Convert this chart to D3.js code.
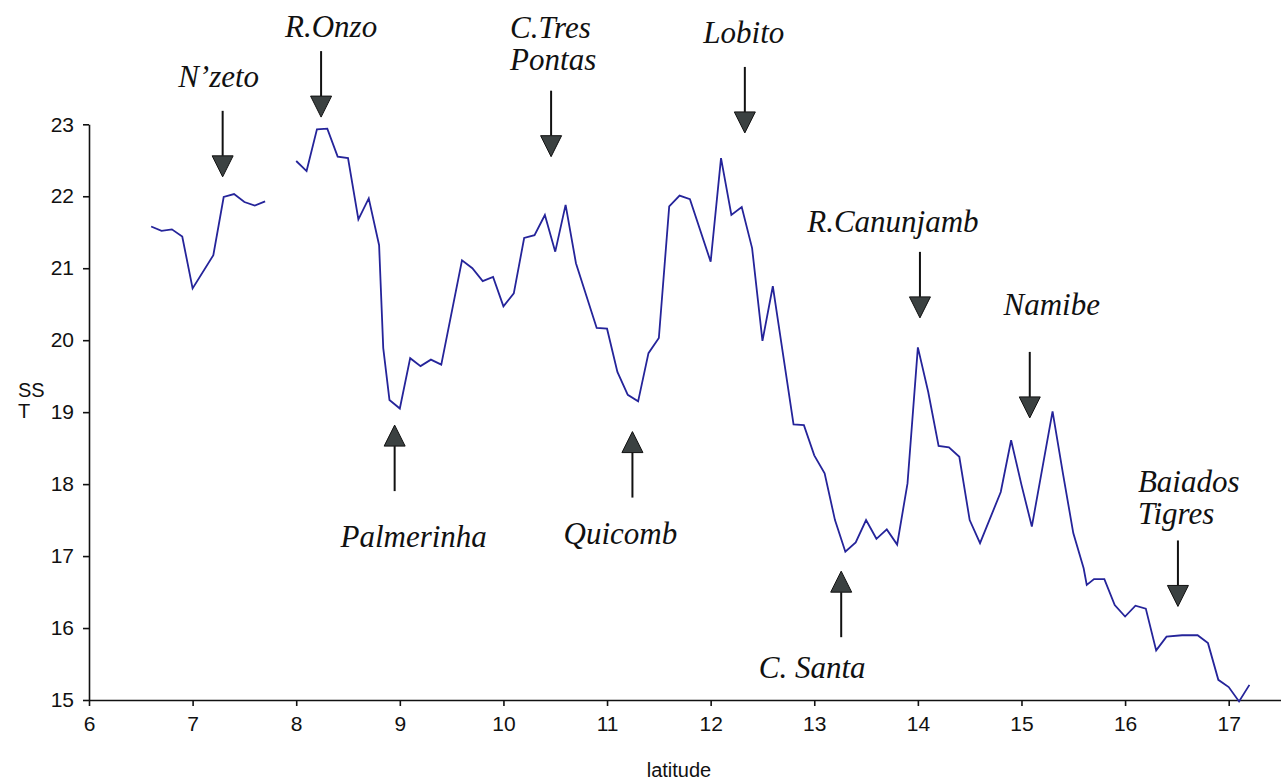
<!DOCTYPE html>
<html>
<head>
<meta charset="utf-8">
<script src="https://cdn.jsdelivr.net/npm/d3@7"></script>
<style>
  html, body { margin: 0; padding: 0; background: #fff; }
  svg { display: block; }
  .tick text { font-family: "Liberation Sans", Arial, sans-serif; font-size: 21px; fill: #111; }
  .axis path, .axis line { stroke: #111; stroke-width: 1.6; }
  .site { font-family: "Liberation Serif", "Times New Roman", serif; font-style: italic; font-size: 31px; fill: #111; }
  .ttl { font-family: "Liberation Sans", Arial, sans-serif; font-size: 20px; fill: #111; }
</style>
</head>
<body>
<svg id="chart" width="1284" height="783"></svg>
<script>
// SST along the coast vs latitude (null = gap in the record)
const latitude = [
  6.6, 6.7, 6.8, 6.9, 7.0, 7.2, 7.3, 7.4, 7.5, 7.6, 7.7, 7.85,
  8.0, 8.1, 8.2, 8.3, 8.4, 8.5, 8.6, 8.7, 8.8, 8.84, 8.9, 9.0,
  9.1, 9.2, 9.3, 9.4, 9.6, 9.7, 9.8, 9.9, 10.0, 10.1, 10.2, 10.3,
  10.4, 10.5, 10.6, 10.7, 10.9, 11.0, 11.1, 11.2, 11.3, 11.4, 11.5, 11.6,
  11.7, 11.8, 12.0, 12.1, 12.2, 12.3, 12.4, 12.5, 12.6, 12.8, 12.9, 13.0,
  13.1, 13.2, 13.3, 13.4, 13.5, 13.6, 13.7, 13.8, 13.9, 14.0, 14.1, 14.2,
  14.3, 14.4, 14.5, 14.6, 14.8, 14.9, 15.0, 15.1, 15.3, 15.4, 15.5, 15.6,
  15.63, 15.7, 15.8, 15.9, 16.0, 16.1, 16.2, 16.3, 16.4, 16.55, 16.7, 16.8,
  16.9, 17.0, 17.1, 17.2
];
const sst = [
  21.58, 21.52, 21.54, 21.44, 20.72, 21.18, 21.99, 22.03, 21.92, 21.87, 21.93, null,
  22.49, 22.35, 22.93, 22.94, 22.55, 22.53, 21.68, 21.97, 21.32, 19.89, 19.17, 19.05,
  19.75, 19.64, 19.73, 19.66, 21.11, 21.00, 20.82, 20.88, 20.47, 20.65, 21.42, 21.46,
  21.74, 21.23, 21.88, 21.07, 20.17, 20.16, 19.56, 19.24, 19.15, 19.82, 20.03, 21.86,
  22.01, 21.96, 21.09, 22.53, 21.74, 21.85, 21.28, 19.99, 20.75, 18.83, 18.82, 18.40,
  18.15, 17.50, 17.06, 17.19, 17.50, 17.24, 17.37, 17.16, 18.01, 19.90, 19.28, 18.53,
  18.51, 18.38, 17.50, 17.18, 17.89, 18.61, 17.99, 17.41, 19.01, 18.15, 17.32, 16.83,
  16.60, 16.68, 16.68, 16.32, 16.16, 16.31, 16.27, 15.69, 15.88, 15.90, 15.90, 15.79,
  15.28, 15.18, 14.98, 15.21
];

const xTicks = [6, 7, 8, 9, 10, 11, 12, 13, 14, 15, 16, 17];
const yTicks = [15, 16, 17, 18, 19, 20, 21, 22, 23];

// coastal sites marked with arrows: name lines, latitude, SST at arrow tip, direction
const siteNames = [["N\u2019zeto"], ["R.Onzo"], ["C.Tres", "Pontas"], ["Lobito"], ["R.Canunjamb"],
                   ["Namibe"], ["Baiados", "Tigres"], ["Palmerinha"], ["Quicomb"], ["C. Santa"]];
const siteLat  = [7.29, 8.24, 10.46, 12.33, 14.02, 15.08, 16.51, 8.95, 11.245, 13.26];
const siteTip  = [22.27, 23.10, 22.55, 22.88, 20.31, 18.92, 16.30, 18.82, 18.73, 16.79];
const siteDir  = ["down", "down", "down", "down", "down", "down", "down", "up", "up", "up"];

// label placement relative to the arrow tail (px)
const labelDx  = [-4, 10, -41, -1, -27, 22, -40, 19, -12, -29];
const labelDy  = [-24, -14, -53, -24, -20, -37, -48, 56, 46, 41];
const labelAnchor = ["middle", "middle", "start", "middle", "middle", "middle", "start", "middle", "middle", "middle"];

const svg = d3.select('#chart');
const x = d3.scaleLinear().domain([6, 17.5]).range([89, 1280.5]);
const y = d3.scaleLinear().domain([15, 23]).range([700, 124.3]);

svg.append('g').attr('class', 'axis')
  .attr('transform', 'translate(0,' + y(15) + ')')
  .call(d3.axisBottom(x).tickValues(xTicks).tickSize(6).tickSizeOuter(0).tickPadding(10));

svg.append('g').attr('class', 'axis')
  .attr('transform', 'translate(' + x(6) + ',0)')
  .call(d3.axisLeft(y).tickValues(yTicks).tickSize(6).tickSizeOuter(0).tickPadding(9));

svg.append('text').attr('class', 'ttl').attr('x', 18).attr('y', 397).text('SS');
svg.append('text').attr('class', 'ttl').attr('x', 18).attr('y', 418).text('T');
svg.append('text').attr('class', 'ttl').attr('x', 679).attr('y', 777)
  .attr('text-anchor', 'middle').text('latitude');

const pts = latitude.map(function (d, i) { return { lat: d, t: sst[i] }; });
const line = d3.line()
  .defined(function (d) { return d.t !== null; })
  .x(function (d) { return x(d.lat); })
  .y(function (d) { return y(d.t); });

svg.append('path').datum(pts)
  .attr('fill', 'none').attr('stroke', '#25249a').attr('stroke-width', 1.8)
  .attr('stroke-linejoin', 'miter').attr('d', line);

// arrows
const shaft = 45, head = 21, halfW = 10.5;
const g = svg.append('g');
siteNames.forEach(function (name, i) {
  const ax = x(siteLat[i]);
  const tip = y(siteTip[i]);
  const s = siteDir[i] === 'down' ? -1 : 1;   // direction from tip towards tail
  const tail = tip + s * (head + shaft);
  g.append('line')
    .attr('x1', ax).attr('x2', ax)
    .attr('y1', tail).attr('y2', tip + s * head)
    .attr('stroke', '#111').attr('stroke-width', 2);
  g.append('path')
    .attr('d', 'M' + ax + ',' + tip + 'L' + (ax - halfW) + ',' + (tip + s * head) +
               'L' + (ax + halfW) + ',' + (tip + s * head) + 'Z')
    .attr('fill', '#3b4141').attr('stroke', '#111').attr('stroke-width', 1);

  const tx = g.append('text').attr('class', 'site')
    .attr('text-anchor', labelAnchor[i])
    .attr('x', ax + labelDx[i]).attr('y', tail + labelDy[i]);
  name.forEach(function (part, k) {
    tx.append('tspan').attr('x', ax + labelDx[i]).attr('dy', k === 0 ? 0 : 32).text(part);
  });
});
</script>
</body>
</html>
